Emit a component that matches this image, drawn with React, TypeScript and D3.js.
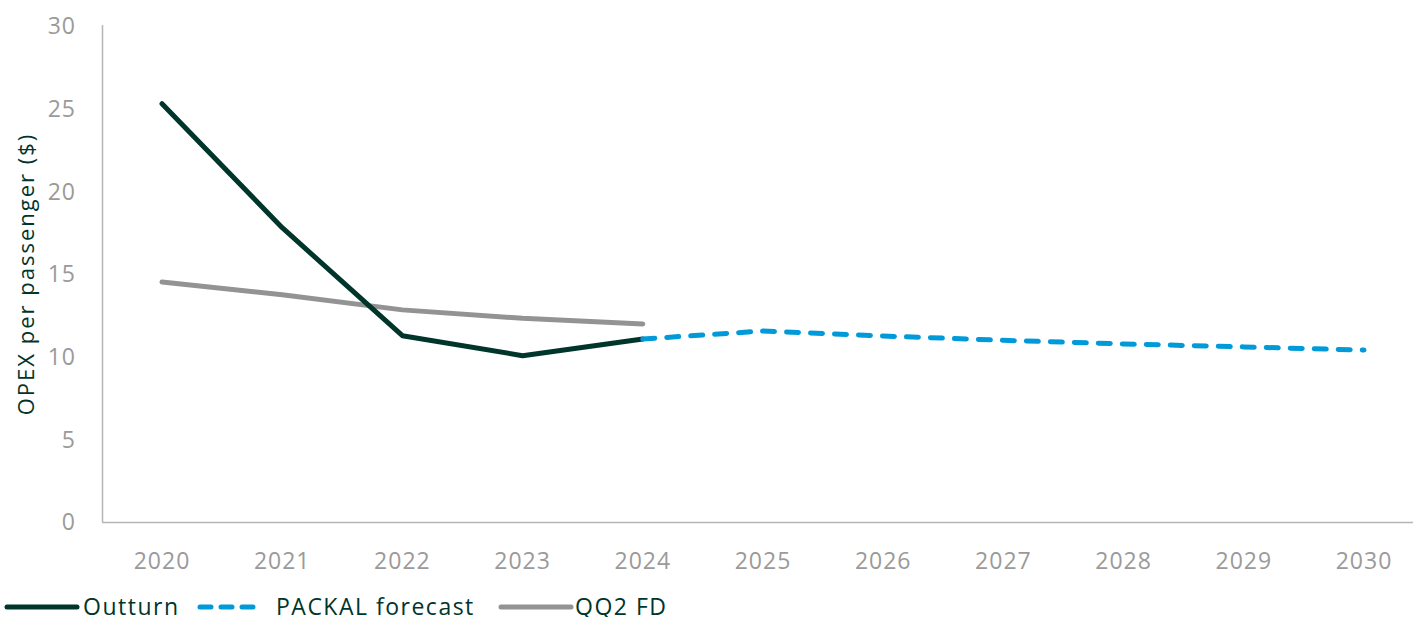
import React, { useEffect } from "react";
import * as d3 from "d3";

// Years on the horizontal axis
const years = ["2020", "2021", "2022", "2023", "2024", "2025", "2026", "2027", "2028", "2029", "2030"];

// OPEX per passenger ($)
const outturnYears = ["2020", "2021", "2022", "2023", "2024"];
const outturnValues = [25.3, 17.8, 11.27, 10.06, 11.07];

const forecastYears = ["2024", "2025", "2026", "2027", "2028", "2029", "2030"];
const forecastValues = [11.07, 11.55, 11.25, 10.99, 10.77, 10.59, 10.4];

const qq2Years = ["2020", "2021", "2022", "2023", "2024"];
const qq2Values = [14.52, 13.75, 12.83, 12.32, 11.98];

const yTicks = [0, 5, 10, 15, 20, 25, 30];

const W = 1414;
const H = 617;
const FONT = "'Open Sans', 'Noto Sans', sans-serif";
const DARK = "#00352b";
const BLUE = "#009ad8";
const GREY = "#939393";
const TICK = "#9a9a9a";

export default function App() {
  useEffect(() => {
    document.body.style.margin = "0";
  }, []);

  const x = d3.scalePoint<string>().domain(years).range([162, 1364]);
  const y = d3.scaleLinear().domain([0, 30]).range([522, 26]);

  const line = d3
    .line<[string, number]>()
    .x((d) => x(d[0]) as number)
    .y((d) => y(d[1]));

  const outturn = line(outturnYears.map((yr, i) => [yr, outturnValues[i]])) || "";
  const forecast = line(forecastYears.map((yr, i) => [yr, forecastValues[i]])) || "";
  const qq2 = line(qq2Years.map((yr, i) => [yr, qq2Values[i]])) || "";

  const legend = [
    { label: "Outturn", color: DARK, dash: undefined as string | undefined, x0: 7, x1: 77, tx: 83 },
    { label: "PACKAL forecast", color: BLUE, dash: "11 10", x0: 200, x1: 262, tx: 276 },
    { label: "QQ2 FD", color: GREY, dash: undefined, x0: 501, x1: 571, tx: 575 },
  ];

  return (
    <svg width={W} height={H} style={{ display: "block", background: "#fff" }} fontFamily={FONT}>
      {/* axes */}
      <line x1={102.5} x2={102.5} y1={25} y2={522} stroke="#b5b5b5" strokeWidth={1.5} />
      <line x1={102} x2={1413} y1={522.5} y2={522.5} stroke="#b5b5b5" strokeWidth={1.5} />

      {yTicks.map((t) => (
        <text
          key={t}
          x={76}
          y={y(t)}
          dy="0.36em"
          textAnchor="end"
          fontSize={23}
          letterSpacing={1}
          fill={TICK}
        >
          {t}
        </text>
      ))}
      {years.map((yr) => (
        <text
          key={yr}
          x={x(yr)}
          y={561}
          dy="0.36em"
          textAnchor="middle"
          fontSize={23}
          letterSpacing={1}
          fill={TICK}
        >
          {yr}
        </text>
      ))}

      <text
        transform="translate(26,274) rotate(-90)"
        textAnchor="middle"
        dy="0.35em"
        fontSize={22}
        letterSpacing={2}
        fill={DARK}
      >
        OPEX per passenger ($)
      </text>

      {/* series */}
      <path d={qq2} fill="none" stroke={GREY} strokeWidth={5} strokeLinecap="round" strokeLinejoin="round" />
      <path d={outturn} fill="none" stroke={DARK} strokeWidth={5} strokeLinecap="round" strokeLinejoin="round" />
      <path
        d={forecast}
        fill="none"
        stroke={BLUE}
        strokeWidth={5}
        strokeDasharray="12 12"
        strokeLinecap="round"
        strokeLinejoin="round"
      />

      {/* legend */}
      {legend.map((l) => (
        <g key={l.label}>
          <line
            x1={l.x0}
            x2={l.x1}
            y1={607}
            y2={607}
            stroke={l.color}
            strokeWidth={5}
            strokeLinecap="round"
            strokeDasharray={l.dash}
          />
          <text x={l.tx} y={607} dy="0.36em" fontSize={23} letterSpacing={1.5} fill={DARK}>
            {l.label}
          </text>
        </g>
      ))}
    </svg>
  );
}
